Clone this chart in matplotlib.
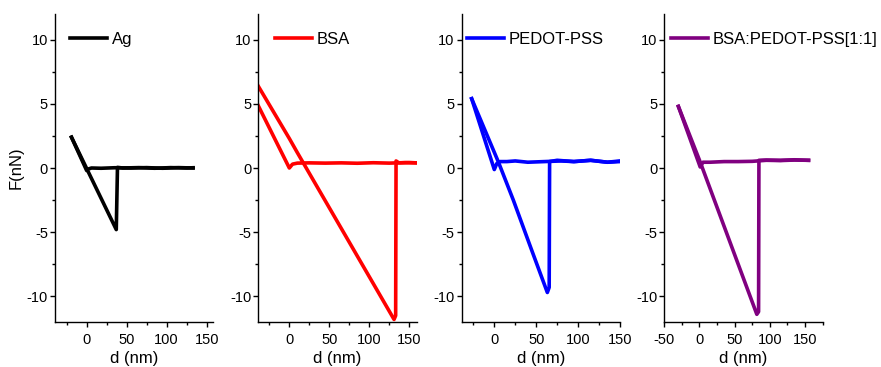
import matplotlib
matplotlib.use("Agg")
import matplotlib.pyplot as plt
from matplotlib.ticker import MultipleLocator

plt.rcParams['font.family'] = ['Liberation Sans', 'DejaVu Sans']
plt.rcParams['axes.unicode_minus'] = False

# force curves: d (nm), F (nN)
ag_app_d = [133, 115, 95, 75, 55, 35, 18, 6, 1, 0, -19]
ag_app_f = [0.0, 0.03, -0.02, 0.03, 0.0, 0.02, -0.02, 0.0, -0.1, -0.2, 2.4]
ag_ret_d = [-19, 37, 38.5, 45, 65, 85, 105, 125, 133]
ag_ret_f = [2.4, -4.8, 0.05, 0.0, 0.03, -0.02, 0.03, 0.0, 0.02]

bsa_app_d = [160, 145, 125, 105, 85, 65, 45, 25, 10, 4, 0, -40]
bsa_app_f = [0.4, 0.42, 0.38, 0.41, 0.37, 0.4, 0.38, 0.4, 0.38, 0.3, 0.0, 5.0]
bsa_ret_d = [-40, 0, 10, 131, 133, 133.5, 137, 150, 160]
bsa_ret_f = [6.5, 2.3, 1.2, -11.8, -11.5, 0.55, 0.4, 0.42, 0.4]

ped_app_d = [150, 135, 115, 95, 80, 60, 40, 25, 15, 7, 3, 0, -27]
ped_app_f = [0.55, 0.45, 0.6, 0.5, 0.55, 0.5, 0.45, 0.55, 0.5, 0.5, 0.35, -0.12, 5.4]
ped_ret_d = [-27, 5, 22.7, 44.6, 63.3, 65.5, 66, 75, 95, 115, 135, 150]
ped_ret_f = [5.4, 0.45, -2.5, -6.4, -9.7, -9.3, 0.5, 0.6, 0.5, 0.6, 0.45, 0.5]

mix_app_d = [155, 135, 115, 95, 75, 55, 35, 15, 5, 1, -30]
mix_app_f = [0.6, 0.62, 0.58, 0.6, 0.52, 0.5, 0.5, 0.45, 0.45, 0.08, 4.8]
mix_ret_d = [-30, 1, 81.5, 84, 84.5, 95, 115, 135, 155]
mix_ret_f = [4.8, 0.47, -11.4, -11.2, 0.6, 0.62, 0.6, 0.64, 0.6]

labels = ['Ag', 'BSA', 'PEDOT-PSS', 'BSA:PEDOT-PSS[1:1]']
colors = ['black', '#ff0000', '#0000ff', '#800080']
xlims = [(-39.6, 158.3), (-38.8, 159.2), (-38.9, 150), (-50, 175)]
curves = [(ag_app_d, ag_app_f, ag_ret_d, ag_ret_f),
          (bsa_app_d, bsa_app_f, bsa_ret_d, bsa_ret_f),
          (ped_app_d, ped_app_f, ped_ret_d, ped_ret_f),
          (mix_app_d, mix_app_f, mix_ret_d, mix_ret_f)]
legend_x = [0.095, 0.105, 0.035, 0.042]

fig = plt.figure(figsize=(8.81, 3.67), dpi=100)
lefts = [55, 258.3, 461.7, 664.3]

for i in range(4):
    ax = fig.add_axes([lefts[i] / 881, 1 - 322 / 367, 158.3 / 881, 308 / 367])
    app_d, app_f, ret_d, ret_f = curves[i]
    ax.plot(app_d, app_f, color=colors[i], lw=2.6, label=labels[i],
            solid_joinstyle='round')
    ax.plot(ret_d, ret_f, color=colors[i], lw=2.6, solid_joinstyle='round')
    ax.set_xlim(*xlims[i])
    ax.set_ylim(-12, 12)
    ax.xaxis.set_major_locator(MultipleLocator(50))
    ax.xaxis.set_minor_locator(MultipleLocator(25))
    ax.yaxis.set_major_locator(MultipleLocator(5))
    ax.yaxis.set_minor_locator(MultipleLocator(2.5))
    ax.spines['top'].set_visible(False)
    ax.spines['right'].set_visible(False)
    for s in ['left', 'bottom']:
        ax.spines[s].set_linewidth(1.0)
    ax.tick_params(which='major', direction='out', length=3.6, width=1.0, labelsize=10.5)
    ax.tick_params(axis='x', which='major', pad=4.5)
    ax.tick_params(axis='y', which='major', pad=1.5)
    ax.tick_params(which='minor', direction='out', length=2, width=1.0)
    ax.set_xlabel('d (nm)', fontsize=12, labelpad=3)
    if i == 0:
        ax.set_ylabel('F(nN)', fontsize=12, labelpad=2)
    ax.legend(loc='center left', bbox_to_anchor=(legend_x[i], 0.918), frameon=False,
              fontsize=12, handlelength=2.2, handletextpad=0.3, borderpad=0,
              borderaxespad=0)

fig.savefig('out.png', dpi=100)
